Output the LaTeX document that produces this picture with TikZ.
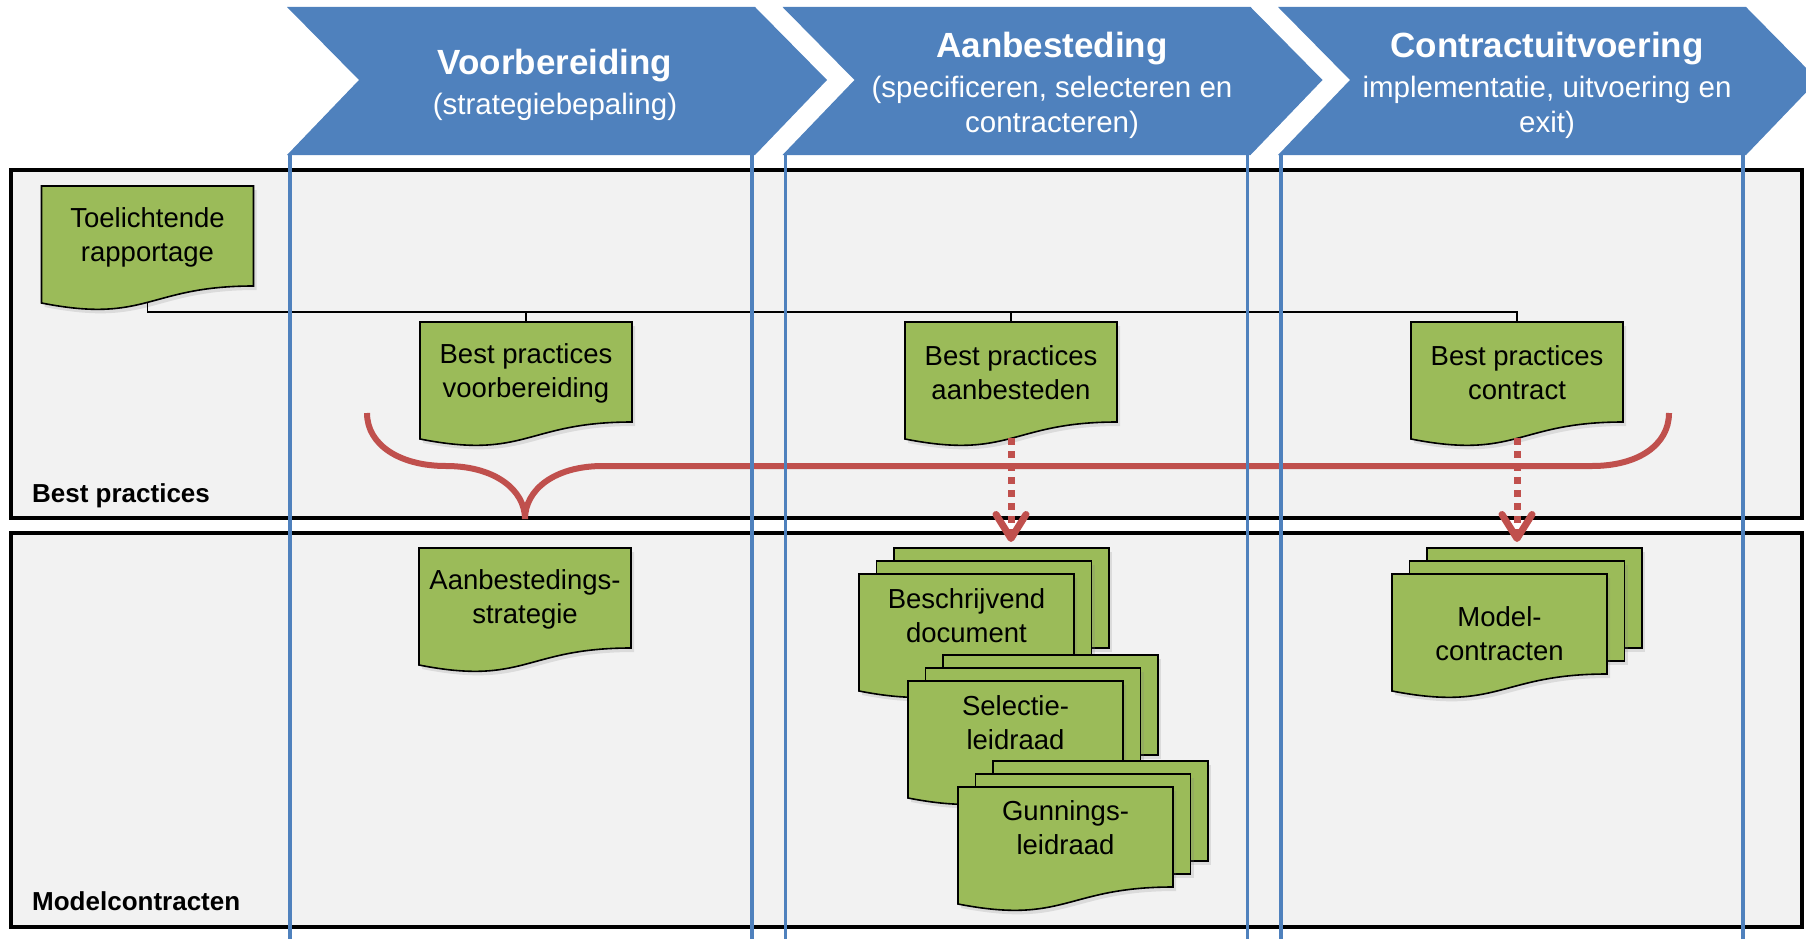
\documentclass[tikz,border=0pt]{standalone}
\usepackage{fontspec}
\setmainfont{Liberation Sans}
\usetikzlibrary{arrows.meta,shadows}
\definecolor{chevblue}{RGB}{79,129,189}
\definecolor{docgreen}{RGB}{155,187,89}
\definecolor{bracered}{RGB}{192,80,77}
\definecolor{lanegray}{RGB}{242,242,242}
\tikzset{
  chev/.style={fill=chevblue},
  lane/.style={fill=lanegray, draw=black, line width=4pt},
  colline/.style={draw=chevblue, line width=3.5pt},
  docshape/.style={fill=docgreen, draw=black, line width=1.6pt,
    drop shadow={shadow xshift=3pt, shadow yshift=-4pt, opacity=0.2}},
  doctext/.style={align=center, inner sep=0pt, font=\fontsize{27.5}{34}\selectfont},
  phasetext/.style={align=center, inner sep=0pt, text=white, font=\fontsize{29.5}{35}\selectfont},
  lanelabel/.style={anchor=base west, inner sep=0pt, font=\fontsize{26}{30}\selectfont\bfseries},
  feed/.style={draw=black, line width=1.5pt},
  brace/.style={draw=bracered, line width=6pt},
  flow/.style={draw=bracered, line width=7pt, dash pattern=on 7pt off 6pt,
    -{Straight Barb[length=24pt,width=30pt,round]}},
}
% single document sheet: name, x, y, text
\newcommand{\docsheet}[4]{%
  \begin{scope}[shift={(#2,#3)}]
    \path[docshape] (0,0) -- (212,0) -- (212,100) .. controls (106,100) and (106,138) .. (0,117) -- cycle;
    \node[doctext] (#1) at (106,51) {#4};
    \coordinate (#1-t) at (106,0);
    \coordinate (#1-b) at (106,116);
  \end{scope}}
% stack of three sheets: name, x, y, text, text offset
\newcommand{\docstack}[5]{%
  \begin{scope}[shift={(#2,#3)}]
    \path[docshape] (35,-26) rectangle ++(215,100);
    \path[docshape] (17.5,-13) rectangle ++(215,100);
    \path[docshape] (0,0) -- (215,0) -- (215,100) .. controls (107.5,100) and (107.5,138) .. (0,117) -- cycle;
    \node[doctext] (#1) at (107.5,#5) {#4};
  \end{scope}}
\begin{document}
\begin{tikzpicture}[x=1pt,y=-1pt]
    \useasboundingbox (0,0) rectangle (1806,939);
    % phases
    \foreach \cx in {287,782.5,1278}
        \fill[chev] (\cx,7) -- ++(468,0) -- ++(72,73) -- ++(-72,75) -- ++(-468,0) -- ++(72,-75) -- cycle;
    \node[phasetext] (ph-voor) at (555,85) {{\fontsize{35}{35}\selectfont\bfseries Voorbereiding}\\[5pt](strategiebepaling)};
    \node[phasetext] (ph-aan) at (1052,85) {{\fontsize{35}{35}\selectfont\bfseries Aanbesteding}\\[5pt](specificeren, selecteren en\\contracteren)};
    \node[phasetext] (ph-con) at (1547,85) {{\fontsize{35}{35}\selectfont\bfseries Contractuitvoering}\\[5pt]implementatie, uitvoering en\\exit)};

    % lanes
    \draw[lane] (11,170) rectangle (1802,518);
    \draw[lane] (11,533) rectangle (1802,927);
    \node[lanelabel] (lbl-bp) at (32,502) {Best practices};
    \node[lanelabel] (lbl-mc) at (32,910) {Modelcontracten};

    % documents
    \docsheet{toel}{41.5}{186}{Toelichtende\\rapportage}
    \docsheet{bpvoor}{420}{322}{Best practices\\voorbereiding}
    \docsheet{bpaan}{905}{322}{Best practices\\aanbesteden}
    \docsheet{bpcon}{1411}{322}{Best practices\\contract}
    \docsheet{strat}{419}{548}{Aanbestedings-\\strategie}
    \docstack{beschr}{859}{574}{Beschrijvend\\document}{42}
    \docstack{select}{908}{681}{Selectie-\\leidraad}{42}
    \docstack{gunn}{958}{787}{Gunnings-\\leidraad}{41}
    \docstack{model}{1392}{574}{Model-\\contracten}{60}

    % feeds from the report
    \coordinate (bus) at ([yshift=-10pt]toel-b);
    \draw[feed] (toel-b) -- (bus) -| (bpcon-t);
    \draw[feed] (bus) -| (bpvoor-t);
    \draw[feed] (bus) -| (bpaan-t);

    % brace and flows
    \draw[brace] (367,413) .. controls (367,445) and (400,466) .. (446,466)
        .. controls (495,466) and (525,490) .. (525,519)
        .. controls (525,490) and (554,466) .. (603,466)
        -- (1592,466) .. controls (1638,466) and (1669,445) .. (1669,413);
    \coordinate (aan-end) at (1011,542);
    \coordinate (con-end) at (1517,542);
    \draw[flow] (bpaan-b) -- (aan-end);
    \draw[flow] (bpcon-b) -- (con-end);

    % phase columns
    \foreach \cx in {287,782.5,1278} {
        \draw[colline] (\cx+3,155) -- (\cx+3,939);
        \draw[colline] (\cx+465,155) -- (\cx+465,939);
    }
\end{tikzpicture}
\end{document}
